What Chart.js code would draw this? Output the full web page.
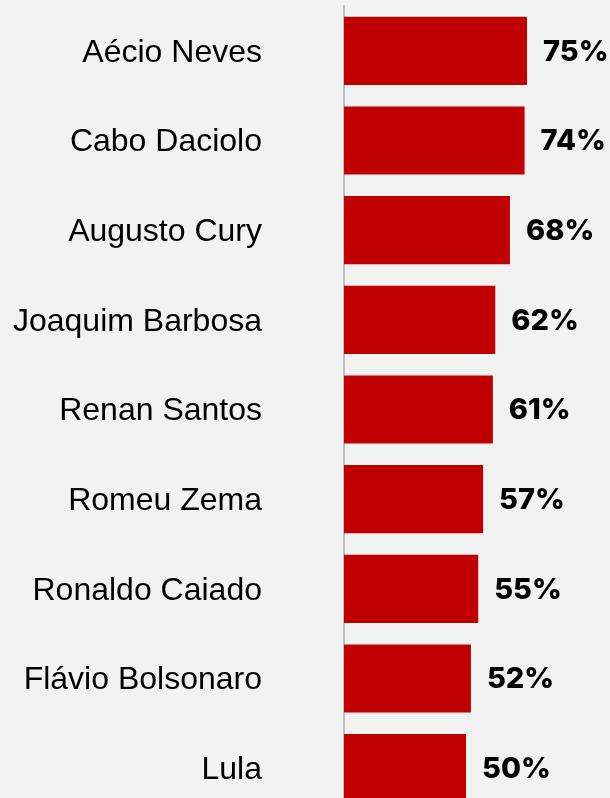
<!DOCTYPE html>
<html>
<head>
<meta charset="utf-8">
<script src="https://cdn.jsdelivr.net/npm/chart.js@4/dist/chart.umd.min.js"></script>
<style>
  html, body { margin: 0; padding: 0; background: #F2F2F2; overflow: hidden; }
  canvas { display: block; }
</style>
</head>
<body>
<canvas id="c" width="610" height="820" style="width:610px;height:820px;"></canvas>
<script>
const categories = ["Aécio Neves", "Cabo Daciolo", "Augusto Cury", "Joaquim Barbosa", "Renan Santos", "Romeu Zema", "Ronaldo Caiado", "Flávio Bolsonaro", "Lula"];
const values = [75, 74, 68, 62, 61, 57, 55, 52, 50];
const valueLabels = ["75%", "74%", "68%", "62%", "61%", "57%", "55%", "52%", "50%"];

const valueLabelPlugin = {
  id: 'valueLabels',
  afterDatasetsDraw(chart) {
    const ctx = chart.ctx;
    const meta = chart.getDatasetMeta(0);
    ctx.save();
    ctx.font = '800 29px Inter';
    ctx.fillStyle = '#000000';
    ctx.textAlign = 'left';
    ctx.textBaseline = 'middle';
    meta.data.forEach((bar, i) => {
      ctx.fillText(valueLabels[i], bar.x + 16, bar.y + 1);
    });
    ctx.restore();
  }
};

new Chart(document.getElementById('c'), {
  type: 'bar',
  data: {
    labels: categories,
    datasets: [{
      data: values,
      backgroundColor: '#C00000',
      borderWidth: 0,
      barPercentage: 0.76,
      categoryPercentage: 1.0
    }]
  },
  options: {
    responsive: false,
    maintainAspectRatio: false,
    devicePixelRatio: 1,
    indexAxis: 'y',
    animation: false,
    layout: { padding: { top: 6, bottom: 7, left: 0, right: 0 } },
    plugins: { legend: { display: false }, tooltip: { enabled: false } },
    scales: {
      x: {
        display: false,
        min: 0,
        max: 109
      },
      y: {
        afterFit(scale) {
          scale.width = 344;
          scale.paddingTop = 0;
          scale.paddingBottom = 0;
        },
        grid: { display: false, drawTicks: false },
        border: { display: true, color: '#BFBFBF', width: 2 },
        ticks: {
          padding: 82,
          labelOffset: 2,
          color: '#000000',
          font: { family: 'Liberation Sans', size: 32 }
        }
      }
    }
  },
  plugins: [valueLabelPlugin]
});
</script>
</body>
</html>
